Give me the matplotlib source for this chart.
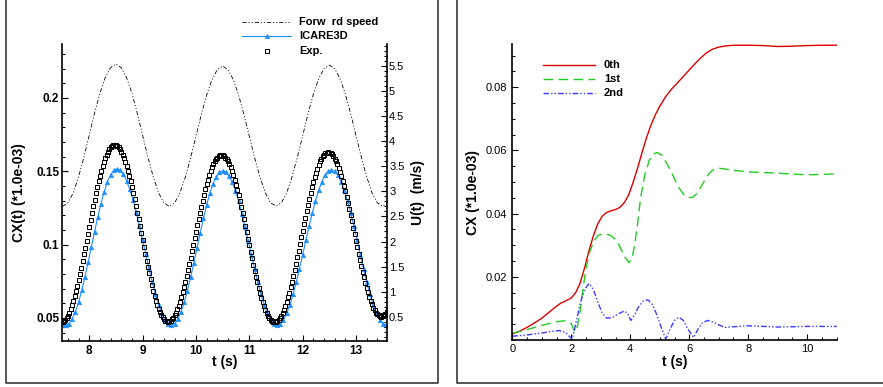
import numpy as np
import matplotlib
matplotlib.use("Agg")
import matplotlib.pyplot as plt
from matplotlib.lines import Line2D
import matplotlib.ticker as mticker

plt.rcParams["font.family"] = ["Liberation Sans", "DejaVu Sans"]
plt.rcParams["lines.scale_dashes"] = False

W, H = 883, 387

# ---------------- left panel data ----------------
# forward speed U(t), m/s, sampled every 0.1 s
t_speed = np.arange(7.5, 13.6 + 1e-6, 0.1)
u_speed = [
    2.70, 2.77, 2.97, 3.29, 3.68, 4.12, 4.56, 4.96, 5.27, 5.47,
    5.54, 5.47, 5.27, 4.96, 4.56, 4.12, 3.68, 3.29, 2.97, 2.77,
    2.70, 2.77, 2.97, 3.28, 3.67, 4.10, 4.53, 4.92, 5.23, 5.43,
    5.50, 5.43, 5.23, 4.92, 4.53, 4.10, 3.67, 3.28, 2.97, 2.77,
    2.71, 2.77, 2.97, 3.29, 3.68, 4.11, 4.55, 4.94, 5.25, 5.45,
    5.52, 5.45, 5.25, 4.94, 4.55, 4.11, 3.68, 3.29, 2.97, 2.77,
    2.70, 2.77,
]

# ICARE3D CX(t) (*1.0e-03)
t_icare = np.arange(7.5, 13.56 + 1e-6, 0.06)
cx_icare = [
    0.0453,
    0.0452, 0.0462, 0.0493, 0.0542, 0.0608, 0.0688, 0.0780, 0.0880, 0.0984,
    0.1088, 0.1188, 0.1280, 0.1360, 0.1426, 0.1476, 0.1506, 0.1516,
    0.1507, 0.1480, 0.1436, 0.1377, 0.1305, 0.1221, 0.1130, 0.1033, 0.0935,
    0.0838, 0.0747, 0.0663, 0.0591, 0.0532, 0.0488, 0.0461, 0.0452,
    0.0462, 0.0492, 0.0541, 0.0606, 0.0686, 0.0777, 0.0875, 0.0978, 0.1081,
    0.1179, 0.1270, 0.1350, 0.1415, 0.1464, 0.1494, 0.1504,
    0.1495, 0.1468, 0.1425, 0.1367, 0.1295, 0.1212, 0.1122, 0.1027, 0.0929,
    0.0834, 0.0744, 0.0661, 0.0589, 0.0531, 0.0488, 0.0461, 0.0452,
    0.0461, 0.0488, 0.0531, 0.0590, 0.0662, 0.0745, 0.0836, 0.0932, 0.1029,
    0.1125, 0.1216, 0.1299, 0.1371, 0.1430, 0.1473, 0.1500, 0.1509,
    0.1500, 0.1473, 0.1430, 0.1371, 0.1299, 0.1216, 0.1125, 0.1029, 0.0932,
    0.0836, 0.0745, 0.0662, 0.0590, 0.0531, 0.0488, 0.0461, 0.0452,
]

# experimental CX(t) (*1.0e-03)
t_exp = np.arange(7.5, 13.6 + 1e-6, 0.025)
cx_exp = [
    0.0472, 0.0477, 0.0487, 0.0500, 0.0516, 0.0536, 0.0559, 0.0586, 0.0615, 0.0647,
    0.0682, 0.0719, 0.0759, 0.0800, 0.0844, 0.0888, 0.0934, 0.0980, 0.1028, 0.1075,
    0.1122, 0.1170, 0.1216, 0.1262, 0.1307, 0.1350, 0.1391, 0.1431, 0.1468, 0.1503,
    0.1535, 0.1564, 0.1591, 0.1614, 0.1634, 0.1650, 0.1663, 0.1673, 0.1678, 0.1680,
    0.1678, 0.1673, 0.1663, 0.1651, 0.1634, 0.1614, 0.1591, 0.1565, 0.1536, 0.1504,
    0.1469, 0.1432, 0.1392, 0.1351, 0.1308, 0.1264, 0.1218, 0.1172, 0.1125, 0.1078,
    0.1030, 0.0983, 0.0937, 0.0891, 0.0847, 0.0804, 0.0763, 0.0723, 0.0686, 0.0651,
    0.0619, 0.0590, 0.0564, 0.0541, 0.0521, 0.0504, 0.0492, 0.0482, 0.0477, 0.0475,
    0.0477, 0.0482, 0.0491, 0.0503, 0.0518, 0.0537, 0.0559, 0.0583, 0.0611, 0.0641,
    0.0674, 0.0709, 0.0746, 0.0785, 0.0825, 0.0867, 0.0910, 0.0954, 0.0998, 0.1043,
    0.1087, 0.1131, 0.1175, 0.1218, 0.1260, 0.1300, 0.1339, 0.1376, 0.1411, 0.1444,
    0.1474, 0.1502, 0.1526, 0.1548, 0.1567, 0.1582, 0.1594, 0.1603, 0.1608, 0.1610,
    0.1608, 0.1603, 0.1594, 0.1582, 0.1567, 0.1548, 0.1526, 0.1501, 0.1473, 0.1443,
    0.1410, 0.1375, 0.1338, 0.1299, 0.1258, 0.1216, 0.1173, 0.1129, 0.1085, 0.1040,
    0.0995, 0.0951, 0.0907, 0.0864, 0.0822, 0.0781, 0.0742, 0.0705, 0.0670, 0.0637,
    0.0607, 0.0579, 0.0554, 0.0532, 0.0513, 0.0498, 0.0486, 0.0477, 0.0472, 0.0470,
    0.0472, 0.0477, 0.0486, 0.0498, 0.0514, 0.0533, 0.0555, 0.0581, 0.0609, 0.0640,
    0.0673, 0.0709, 0.0747, 0.0787, 0.0828, 0.0871, 0.0915, 0.0959, 0.1004, 0.1050,
    0.1096, 0.1141, 0.1185, 0.1229, 0.1272, 0.1313, 0.1353, 0.1391, 0.1427, 0.1460,
    0.1491, 0.1519, 0.1545, 0.1567, 0.1586, 0.1602, 0.1614, 0.1623, 0.1628, 0.1630,
    0.1628, 0.1623, 0.1615, 0.1603, 0.1587, 0.1569, 0.1547, 0.1523, 0.1496, 0.1466,
    0.1434, 0.1399, 0.1363, 0.1324, 0.1284, 0.1243, 0.1201, 0.1158, 0.1114, 0.1070,
    0.1026, 0.0982, 0.0939, 0.0897, 0.0856, 0.0816, 0.0777, 0.0741, 0.0706, 0.0674,
    0.0644, 0.0617, 0.0593, 0.0571, 0.0553, 0.0537, 0.0525, 0.0517, 0.0512, 0.0510,
    0.0512, 0.0517, 0.0526, 0.0538, 0.0553,
]

# ---------------- right panel data ----------------
t_0th = [0, 0.25, 0.5, 0.75, 1.0, 1.25, 1.5, 1.65, 1.8, 2.0, 2.15, 2.3, 2.45,
         2.6, 2.75, 2.9, 3.05, 3.2, 3.35, 3.5, 3.65, 3.8, 3.95, 4.1, 4.25,
         4.4, 4.55, 4.7, 4.85, 5.0, 5.2, 5.4, 5.6, 5.8, 6.0, 6.2, 6.4, 6.6,
         6.8, 7.0, 7.25, 7.5, 8.0, 8.5, 9.0, 9.5, 10.0, 10.5, 11.0]
cx_0th = [0.0019, 0.0028, 0.0040, 0.0054, 0.0069, 0.0088, 0.0107, 0.0117,
          0.0123, 0.0133, 0.0150, 0.0180, 0.0228, 0.0283, 0.0330, 0.0368,
          0.0392, 0.0404, 0.0409, 0.0413, 0.0420, 0.0435, 0.0460, 0.0500,
          0.0545, 0.0594, 0.0640, 0.0680, 0.0713, 0.0740, 0.0770, 0.0794,
          0.0814, 0.0834, 0.0855, 0.0875, 0.0894, 0.0910, 0.0921, 0.0927,
          0.0931, 0.0933, 0.0933, 0.0932, 0.0929, 0.0930, 0.0932, 0.0933,
          0.0933]

t_1st = [0, 0.5, 1.0, 1.5, 1.8, 2.0, 2.12, 2.2, 2.3, 2.4, 2.5, 2.6, 2.75,
         2.9, 3.05, 3.2, 3.35, 3.5, 3.65, 3.8, 3.95, 4.05, 4.15, 4.25, 4.35,
         4.5, 4.65, 4.8, 4.92, 5.05, 5.2, 5.35, 5.5, 5.65, 5.8, 5.95, 6.1,
         6.25, 6.4, 6.55, 6.7, 6.85, 7.0, 7.5, 8.0, 8.5, 9.0, 9.5, 10.0,
         10.5, 11.0]
cx_1st = [0.0021, 0.0033, 0.0046, 0.0058, 0.0061, 0.0052, 0.0025, 0.0040,
          0.0090, 0.0165, 0.0225, 0.0272, 0.0310, 0.0330, 0.0336, 0.0335,
          0.0330, 0.0318, 0.0295, 0.0265, 0.0245, 0.0255, 0.0300, 0.0370,
          0.0450, 0.0525, 0.0570, 0.0590, 0.0593, 0.0586, 0.0565, 0.0540,
          0.0510, 0.0482, 0.0462, 0.0451, 0.0451, 0.0462, 0.0485, 0.0510,
          0.0530, 0.0541, 0.0544, 0.0537, 0.0532, 0.0530, 0.0528, 0.0525,
          0.0523, 0.0524, 0.0526]

t_2nd = [0, 0.5, 1.0, 1.3, 1.6, 1.8, 1.95, 2.03, 2.15, 2.3, 2.45, 2.6, 2.75,
         2.9, 3.05, 3.2, 3.4, 3.6, 3.8, 3.9, 4.02, 4.15, 4.3, 4.45, 4.6,
         4.75, 4.9, 5.05, 5.2, 5.35, 5.5, 5.65, 5.8, 5.95, 6.15, 6.3, 6.45,
         6.62, 6.8, 7.0, 7.2, 7.5, 8.0, 8.5, 9.0, 9.5, 10.0, 10.5, 11.0]
cx_2nd = [0.0012, 0.0016, 0.0022, 0.0027, 0.0030, 0.0024, 0.0010, 0.0002,
          0.0050, 0.0115, 0.0160, 0.0179, 0.0160, 0.0120, 0.0085, 0.0069,
          0.0071, 0.0083, 0.0092, 0.0085, 0.0062, 0.0080, 0.0108, 0.0124,
          0.0127, 0.0112, 0.0080, 0.0040, 0.0003, 0.0035, 0.0062, 0.0072,
          0.0062, 0.0035, 0.0008, 0.0035, 0.0055, 0.0062, 0.0057, 0.0048,
          0.0040, 0.0042, 0.0045, 0.0043, 0.0041, 0.0042, 0.0043, 0.0043,
          0.0043]

BLUE = "#1e8fff"
RED = "#dd0000"
GREEN = "#22cc22"
BLUE2 = "#3b3bff"
SPEED_DASH = (0, (3.0, 1.4, 0.8, 1.4, 0.8, 1.4))
GREEN_DASH = (0, (7.0, 3.8))
BLUE2_DASH = (0, (4.0, 1.5, 1.0, 1.5, 1.0, 1.5))
EXP_MS = 2.4


def fig_xy(x, y):
    """pixel coordinates (top-left origin) -> figure fraction"""
    return x / W, 1 - y / H


def axes_rect(x0, y0, x1, y1):
    return [x0 / W, 1 - y1 / H, (x1 - x0) / W, (y1 - y0) / H]


def style_axis(ax, ticklen=4.0, minorlen=2.2):
    ax.tick_params(which="both", direction="in", width=0.8, color="black")
    ax.tick_params(which="major", length=ticklen)
    ax.tick_params(which="minor", length=minorlen)
    for sp in ax.spines.values():
        sp.set_linewidth(1.2)


def legend_entry(fig, x0, x1, y, label, text_x, **line_kw):
    marker = line_kw.pop("marker", None)
    ms = line_kw.pop("markersize", None)
    mfc = line_kw.pop("markerfacecolor", None)
    mec = line_kw.pop("markeredgecolor", None)
    mew = line_kw.pop("markeredgewidth", None)
    (fx0, fy), (fx1, _) = fig_xy(x0, y), fig_xy(x1, y)
    if line_kw:
        fig.add_artist(Line2D([fx0, fx1], [fy, fy], transform=fig.transFigure, **line_kw))
    if marker:
        fig.add_artist(Line2D([(fx0 + fx1) / 2], [fy], transform=fig.transFigure,
                              linestyle="none", marker=marker, markersize=ms,
                              markerfacecolor=mfc, markeredgecolor=mec,
                              markeredgewidth=mew))
    tx, ty = fig_xy(text_x, y)
    fig.text(tx, ty, label, fontsize=8, fontweight="bold", ha="left", va="center")


fig = plt.figure(figsize=(W / 100, H / 100), dpi=100)
fig.patch.set_facecolor("white")

# panel frames (top edges are cut off in the original)
frame_kw = dict(transform=fig.transFigure, color="#3a3a3a", linewidth=1.2)
for xs, ys in [
    ([6, 6, 438, 438], [-5, 383, 383, -5]),
    ([457, 457, 890], [-5, 383, 383]),
]:
    fx = [x / W for x in xs]
    fy = [1 - y / H for y in ys]
    fig.add_artist(Line2D(fx, fy, **frame_kw))

# ---------------- left panel ----------------
ax = fig.add_axes(axes_rect(62, 44.3, 387, 341))
ax.plot(t_icare, cx_icare, color=BLUE, linewidth=0.8, marker="^",
        markersize=3.4, markerfacecolor=BLUE, markeredgecolor=BLUE,
        markeredgewidth=0.3, zorder=2)
ax.plot(t_exp, cx_exp, linestyle="none", marker="s", markersize=EXP_MS,
        markerfacecolor="none", markeredgecolor="black",
        markeredgewidth=0.75, zorder=3)
ax.set_xlim(7.49, 13.58)
ax.set_ylim(0.0343, 0.2366)
ax.spines["top"].set_visible(False)
ax.spines["right"].set_visible(False)
ax.set_xticks([8, 9, 10, 11, 12, 13], labels=["8", "9", "10", "11", "12", "13"],
              fontsize=8.5, fontweight="bold")
ax.set_yticks([0.05, 0.1, 0.15, 0.2], labels=["0.05", "0.1", "0.15", "0.2"],
              fontsize=8.5, fontweight="bold")
ax.xaxis.set_minor_locator(mticker.MultipleLocator(0.2))
ax.yaxis.set_minor_locator(mticker.MultipleLocator(0.01))
style_axis(ax)
ax.tick_params(axis="x", pad=3)
ax.tick_params(axis="y", pad=2)
ax.text(-0.132, 0.5, "CX(t) (*1.0e-03)", transform=ax.transAxes, rotation=90,
        ha="center", va="center", fontsize=10, fontweight="bold")
ax.text(0.5, -0.07, "t (s)", transform=ax.transAxes, ha="center", va="center",
        fontsize=10, fontweight="bold")

ax_u = ax.twinx()
ax_u.plot(t_speed, u_speed, color="black", linewidth=0.6, linestyle=SPEED_DASH)
ax_u.set_ylim(0.015, 5.935)
ax_u.spines["top"].set_visible(False)
ax_u.spines["left"].set_visible(False)
ax_u.spines["bottom"].set_visible(False)
u_ticks = [0.5, 1, 1.5, 2, 2.5, 3, 3.5, 4, 4.5, 5, 5.5]
ax_u.set_yticks(u_ticks, labels=[f"{v:g}" for v in u_ticks], fontsize=8)
ax_u.yaxis.set_minor_locator(mticker.MultipleLocator(0.1))
style_axis(ax_u)
ax_u.tick_params(axis="y", pad=1.5)
ax_u.text(1.0945, 0.5, "U(t)  (m/s)", transform=ax.transAxes, rotation=90,
          ha="center", va="center", fontsize=10, fontweight="bold")

legend_entry(fig, 242, 291, 22, "Forw  rd speed", 299.3,
             color="black", linewidth=0.6, linestyle=SPEED_DASH)
legend_entry(fig, 242, 291, 35.7, "ICARE3D", 299.3, color=BLUE, linewidth=0.8,
             marker="^", markersize=3.4, markerfacecolor=BLUE,
             markeredgecolor=BLUE, markeredgewidth=0.3)
legend_entry(fig, 242, 291, 51, "Exp.", 299.3, marker="s", markersize=EXP_MS,
             markerfacecolor="none", markeredgecolor="black", markeredgewidth=0.75)

# ---------------- right panel ----------------
ax2 = fig.add_axes(axes_rect(512.3, 44.3, 836.7, 340))
ax2.plot(t_0th, cx_0th, color=RED, linewidth=1.0)
ax2.plot(t_1st, cx_1st, color=GREEN, linewidth=1.0, linestyle=GREEN_DASH)
ax2.plot(t_2nd, cx_2nd, color=BLUE2, linewidth=1.0, linestyle=BLUE2_DASH)
ax2.set_xlim(0, 11)
ax2.set_ylim(0, 0.0936)
ax2.spines["top"].set_visible(False)
ax2.spines["right"].set_visible(False)
ax2.set_xticks([0, 2, 4, 6, 8, 10], labels=["0", "2", "4", "6", "8", "10"], fontsize=8)
ax2.set_yticks([0.02, 0.04, 0.06, 0.08], labels=["0.02", "0.04", "0.06", "0.08"],
               fontsize=8)
ax2.xaxis.set_minor_locator(mticker.MultipleLocator(0.5))
ax2.yaxis.set_minor_locator(mticker.MultipleLocator(0.005))
style_axis(ax2)
ax2.tick_params(axis="x", pad=3)
ax2.tick_params(axis="y", pad=4)
ax2.text(-0.120, 0.5, "CX (*1.0e-03)", transform=ax2.transAxes, rotation=90,
         ha="center", va="center", fontsize=10, fontweight="bold")
ax2.text(0.5, -0.074, "t (s)", transform=ax2.transAxes, ha="center", va="center",
         fontsize=10, fontweight="bold")

legend_entry(fig, 543.3, 595, 65, "0th", 604, color=RED, linewidth=1.0)
legend_entry(fig, 543.3, 595, 79, "1st", 604, color=GREEN, linewidth=1.0,
             linestyle=GREEN_DASH)
legend_entry(fig, 543.3, 595, 92.7, "2nd", 604, color=BLUE2, linewidth=1.0,
             linestyle=BLUE2_DASH)

fig.savefig("out.png", dpi=100, facecolor="white")
